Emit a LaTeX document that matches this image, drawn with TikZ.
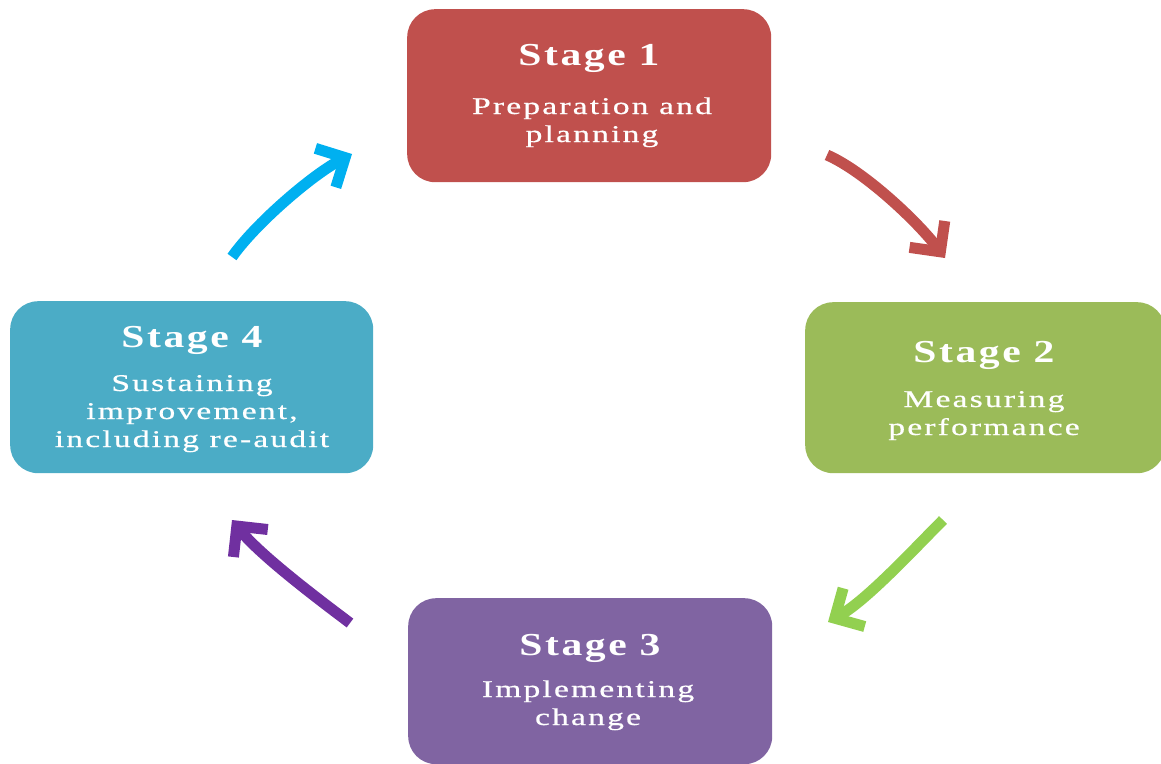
\documentclass[tikz,border=0pt]{standalone}
\usepackage{fontspec}
\setmainfont{Liberation Serif}
\newfontfamily\titlefont[FakeStretch=1.3,LetterSpace=8]{Liberation Serif}
\newfontfamily\bodyfont[FakeStretch=1.4,LetterSpace=9,FakeBold=0.6]{Liberation Serif}
\usetikzlibrary{arrows.meta}
\definecolor{cred}{HTML}{C0504D}
\definecolor{cgreen}{HTML}{9BBB59}
\definecolor{cpurple}{HTML}{8064A2}
\definecolor{cblue}{HTML}{4BACC6}
\definecolor{ared}{HTML}{C0504D}
\definecolor{agreen}{HTML}{92D050}
\definecolor{apurple}{HTML}{7030A0}
\definecolor{ablue}{HTML}{00B0F0}
\tikzset{
  stagebox/.style={rounded corners=28pt, inner sep=0pt, draw=none, anchor=north west},
  titletext/.style={anchor=base, inner sep=0pt, text=white, font=\titlefont\bfseries\fontsize{32}{36}\selectfont},
  bodytext/.style={anchor=base, inner sep=0pt, text=white, align=center, font=\bodyfont\fontsize{24}{28}\selectfont},
  cyclearrow/.style={line width=11pt, -{Straight Barb[length=22pt,width=44pt]}},
}
\begin{document}
\begin{tikzpicture}[x=1pt,y=1pt]
\useasboundingbox (0,0) rectangle (1161,-763);
% boxes
\node[stagebox, fill=cred, minimum width=364pt, minimum height=173pt] (s1) at (407,-9) {};
\node[stagebox, fill=cgreen, minimum width=360pt, minimum height=171pt] (s2) at (805,-302) {};
\node[stagebox, fill=cpurple, minimum width=364pt, minimum height=166pt] (s3) at (408,-598) {};
\node[stagebox, fill=cblue, minimum width=363pt, minimum height=172pt] (s4) at (10,-301) {};
% texts (bodytext base = last line)
\node[titletext] (t1) at (589,-65) {Stage 1};
\node[bodytext] (b1) at (592,-142) {Preparation and\\planning};
\node[titletext] (t2) at (984,-362) {Stage 2};
\node[bodytext] (b2) at (984,-435) {Measuring\\performance};
\node[titletext] (t3) at (590,-655) {Stage 3};
\node[bodytext] (b3) at (588,-725) {Implementing\\change};
\node[titletext] (t4) at (192,-347) {Stage 4};
\node[bodytext] (b4) at (192,-447) {Sustaining\\improvement,\\including re-audit};
% arrows
\coordinate (r0) at (827,-155);
\coordinate (r3) at (945,-258);
\coordinate (g0) at (943,-520);
\coordinate (g3) at (828,-622);
\coordinate (p0) at (350,-623);
\coordinate (p3) at (232,-520);
\coordinate (l0) at (232,-257);
\coordinate (l3) at (352,-154);
\draw[cyclearrow, ared] (r0) .. controls (864,-171) and (918,-222) .. (r3);
\draw[cyclearrow, agreen] (g0) .. controls (915,-548) and (867,-600) .. (g3);
\draw[cyclearrow, apurple] (p0) .. controls (318,-599) and (260,-555) .. (p3);
\draw[cyclearrow, ablue] (l0) .. controls (255,-224) and (312,-175) .. (l3);
\end{tikzpicture}
\end{document}
